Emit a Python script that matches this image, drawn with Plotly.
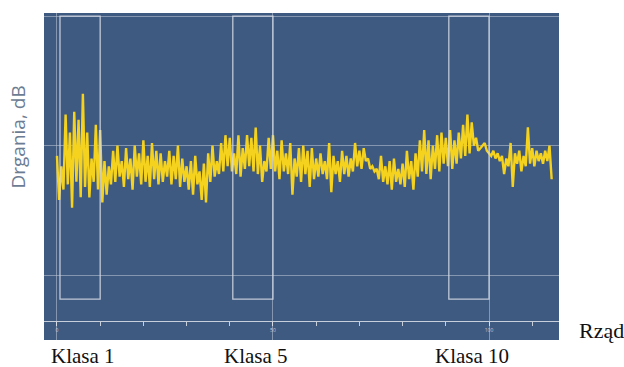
import plotly.graph_objects as go

# Signal sampled every 0.5 row units (x from 0 to 114.5)
x_start = 0.0
x_step = 0.5
vibration = [
    46, 29, 42, 33, 62, 35, 55, 26, 63, 36,
    60, 30, 70, 34, 55, 30, 45, 36, 58, 33,
    56, 28, 44, 31, 42, 35, 48, 36, 50, 38,
    44, 34, 49, 37, 45, 33, 50, 38, 47, 35,
    52, 36, 46, 34, 51, 37, 48, 35, 47, 36,
    44, 38, 48, 35, 46, 37, 50, 34, 45, 36,
    42, 33, 44, 31, 46, 35, 40, 29, 43, 28,
    47, 36, 50, 38, 44, 39, 51, 40, 54, 42,
    53, 40, 47, 39, 54, 38, 49, 41, 54, 42,
    53, 40, 57, 39, 50, 36, 44, 40, 53, 41,
    54, 40, 48, 37, 52, 40, 47, 39, 51, 31,
    45, 38, 49, 36, 50, 39, 48, 34, 49, 37,
    45, 38, 47, 39, 44, 37, 51, 32, 46, 39,
    44, 36, 48, 39, 46, 38, 45, 40, 51, 42,
    48, 41, 49, 44, 45, 41, 42, 40, 41, 37,
    46, 36, 42, 35, 44, 33, 45, 36, 41, 35,
    43, 34, 48, 37, 44, 33, 47, 38, 52, 40,
    56, 39, 52, 37, 50, 41, 54, 40, 55, 43,
    53, 42, 56, 41, 52, 43, 55, 45, 58, 46,
    62, 47, 59, 50, 53, 48, 49, 50, 51, 48,
    47, 46, 48, 45, 47, 44, 46, 39, 45, 42,
    51, 34, 47, 43, 48, 40, 46, 42, 57, 43,
    49, 42, 48, 44, 47, 43, 48, 44, 50, 37,
]
rows = [x_start + i * x_step for i in range(len(vibration))]

class_labels = ["Klasa 1", "Klasa 5", "Klasa 10"]
class_start = [0.7, 40.7, 90.7]
class_end = [10.0, 50.0, 100.0]
class_bottom = -9.3
class_top = 100

x_tick_vals = [0, 50, 100]
x_tick_text = ["0", "50", "100"]
y_grid_vals = [0, 50, 100]

fig = go.Figure()
fig.add_trace(go.Scatter(
    x=rows, y=vibration, mode="lines",
    line=dict(color="#f5d21e", width=2.4),
    hoverinfo="skip", showlegend=False,
))

for s, e in zip(class_start, class_end):
    fig.add_shape(type="rect", xref="x", yref="y", x0=s, x1=e,
                  y0=class_bottom, y1=class_top,
                  line=dict(color="rgba(215,220,230,0.85)", width=1.3),
                  fillcolor="rgba(0,0,0,0)", layer="above")

for lab, s, e in zip(class_labels, class_start, class_end):
    fig.add_annotation(x=(s + e) / 2 + 0.7, xref="x", y=-0.05, yref="paper",
                       text=lab, showarrow=False, yanchor="middle",
                       font=dict(family="Liberation Serif", size=21, color="#111111"))

fig.add_annotation(x=1.035, xref="paper", y=0.03, yref="paper",
                   text="Rząd", showarrow=False, xanchor="left", yanchor="middle",
                   font=dict(family="Liberation Serif", size=22, color="#111111"))

fig.add_annotation(x=-0.05, xref="paper", y=0.62, yref="paper",
                   text="Drgania, dB", showarrow=False, textangle=-90,
                   xanchor="center", yanchor="middle",
                   font=dict(family="Open Sans", size=19, color="#6c7c93"))

fig.update_layout(
    width=624, height=367,
    margin=dict(l=44, r=65, t=13, b=27),
    paper_bgcolor="white",
    plot_bgcolor="#3f5a80",
    xaxis=dict(
        range=[-3.0, 116.2],
        tickvals=x_tick_vals, ticktext=x_tick_text,
        showgrid=True, gridcolor="rgba(190,200,215,0.55)", gridwidth=1,
        zeroline=False,
        anchor="free", position=0.058,
        showline=True, linecolor="rgba(215,220,230,0.9)", linewidth=1.3,
        ticks="outside", ticklen=4, tickcolor="rgba(215,220,230,0.9)",
        tickfont=dict(size=5, color="rgba(215,220,230,0.9)"),
        minor=dict(dtick=10, tick0=0, ticks="outside", ticklen=4,
                   tickcolor="rgba(215,220,230,0.9)", showgrid=False),
        fixedrange=True,
    ),
    yaxis=dict(
        range=[-25.1, 101.2],
        tickvals=y_grid_vals, showticklabels=False,
        showgrid=True, gridcolor="rgba(190,200,215,0.55)", gridwidth=1,
        zeroline=False, showline=False, ticks="",
        fixedrange=True,
    ),
)

fig.write_html(
    "out.html",
    config={"displayModeBar": False},
    post_script="document.body.style.margin='0';document.body.style.overflow='hidden';",
)
